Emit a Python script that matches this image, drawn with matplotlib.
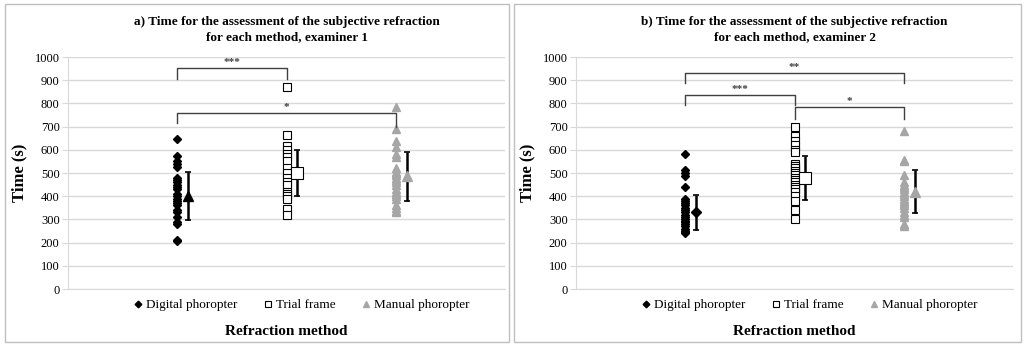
import matplotlib
matplotlib.use("Agg")
import matplotlib.pyplot as plt
from matplotlib.patches import Rectangle

plt.rcParams['font.family'] = ['Liberation Serif', 'DejaVu Serif']

methods = ['Digital phoropter', 'Trial frame', 'Manual phoropter']

# examiner 1
ex1_digital = [645, 575, 550, 540, 525, 480, 470, 460, 450, 440, 430, 410, 400,
               390, 380, 370, 360, 340, 330, 310, 290, 280, 210, 205]
ex1_trial = [870, 665, 615, 600, 580, 570, 550, 520, 500, 480, 460, 450, 420,
             410, 400, 390, 345, 320]
ex1_manual = [785, 690, 640, 610, 580, 570, 520, 505, 500, 490, 480, 470, 460,
              450, 430, 420, 410, 400, 390, 360, 350, 335, 330]
ex1_mean = [400, 500, 485]
ex1_sd = [103, 100, 105]

# examiner 2
ex2_digital = [580, 515, 500, 485, 440, 390, 380, 370, 360, 350, 340, 330, 320,
               310, 300, 295, 290, 280, 270, 260, 250, 245, 240]
ex2_trial = [700, 660, 640, 620, 600, 590, 540, 530, 520, 510, 500, 490, 480,
             470, 460, 450, 440, 430, 420, 400, 380, 340, 300]
ex2_manual = [680, 555, 550, 490, 460, 450, 440, 430, 420, 410, 400, 390, 380,
              370, 360, 350, 330, 320, 310, 280, 270]
ex2_mean = [330, 480, 420]
ex2_sd = [75, 95, 92]

# significance brackets: (from, to, top, left leg end, right leg end, label)
ex1_sig = [(1, 2, 952, 905, 905, '***'), (1, 3, 760, 715, 700, '*')]
ex2_sig = [(1, 3, 932, 888, 888, '**'), (1, 2, 838, 792, 792, '***'),
           (2, 3, 783, 733, 733, '*')]

titles = ['a) Time for the assessment of the subjective refraction\nfor each method, examiner 1',
          'b) Time for the assessment of the subjective refraction\nfor each method, examiner 2']

styles = [dict(marker='D', color='black', mfc='black', mec='black', ms=4.5),
          dict(marker='s', color='black', mfc='white', mec='black', ms=6, mew=0.8),
          dict(marker='^', color='#a6a6a6', mfc='#a6a6a6', mec='#a6a6a6', ms=6)]
# marker of the mean point per panel (examiner 1 shows a triangle for the digital one)
mean_markers = [['^', 's', '^'], ['D', 's', '^']]
mean_ms = [[6.5, 8, 7], [5, 8, 7]]

W, H = 1024, 346
fig = plt.figure(figsize=(W / 100, H / 100), dpi=100)

panels = [
    (68, [ex1_digital, ex1_trial, ex1_manual], ex1_mean, ex1_sd, ex1_sig, 5, 509),
    (576, [ex2_digital, ex2_trial, ex2_manual], ex2_mean, ex2_sd, ex2_sig, 514, 1021),
]

for i, (x0, groups, means, sds, sigs, bx0, bx1) in enumerate(panels):
    fig.patches.append(Rectangle((bx0 / W, 4 / H), (bx1 - bx0) / W, 338 / H,
                                 transform=fig.transFigure, fill=False,
                                 ec='#bfbfbf', lw=1))
    ax = fig.add_axes([x0 / W, 1 - 289 / H, 437 / W, 232 / H])
    ax.set_xlim(0, 4)
    ax.set_ylim(0, 1000)
    ax.set_yticks(range(0, 1001, 100))
    ax.set_xticks([])
    ax.grid(axis='y', color='#d9d9d9', lw=1)
    ax.set_axisbelow(True)
    for s in ['top', 'right']:
        ax.spines[s].set_visible(False)
    ax.spines['left'].set_color('#d9d9d9')
    ax.spines['bottom'].set_color('#d9d9d9')
    ax.tick_params(axis='y', length=4, color='#d9d9d9', labelsize=9, pad=2)

    handles = []
    for k, vals in enumerate(groups):
        h, = ax.plot([k + 1] * len(vals), vals, ls='none', label=methods[k], **styles[k])
        handles.append(h)
        st = dict(styles[k])
        st['marker'] = mean_markers[i][k]
        st['ms'] = mean_ms[i][k]
        if k == 0:
            st['mfc'] = st['mec'] = 'black'
        ax.errorbar(k + 1.1, means[k], yerr=sds[k], fmt='none', ecolor='black',
                    elinewidth=1.8, capsize=2, capthick=1.2, zorder=3)
        ax.plot(k + 1.1, means[k], ls='none', zorder=4, **st)

    for a, b, top, l1, l2, lab in sigs:
        ax.plot([a, a, b, b], [l1, top, top, l2], color='#404040', lw=1, clip_on=False)
        ax.text((a + b) / 2, top + 4, lab, ha='center', va='bottom', fontsize=8,
                fontweight='bold', color='#404040')

    ax.set_ylabel('Time (s)', fontsize=12, fontweight='bold', labelpad=5)
    ax.set_title(titles[i], fontsize=9.5, fontweight='bold', pad=12, linespacing=1.35)
    ax.legend(handles=handles, loc='center', bbox_to_anchor=(0.535, -0.07),
              ncol=3, frameon=False, fontsize=9.5, handlelength=0.6,
              handletextpad=0.3, columnspacing=2.0, markerscale=0.75)
    ax.text(0.5, -0.185, 'Refraction method', transform=ax.transAxes, ha='center',
            va='center', fontsize=11, fontweight='bold')

fig.savefig('out.png', dpi=100)
